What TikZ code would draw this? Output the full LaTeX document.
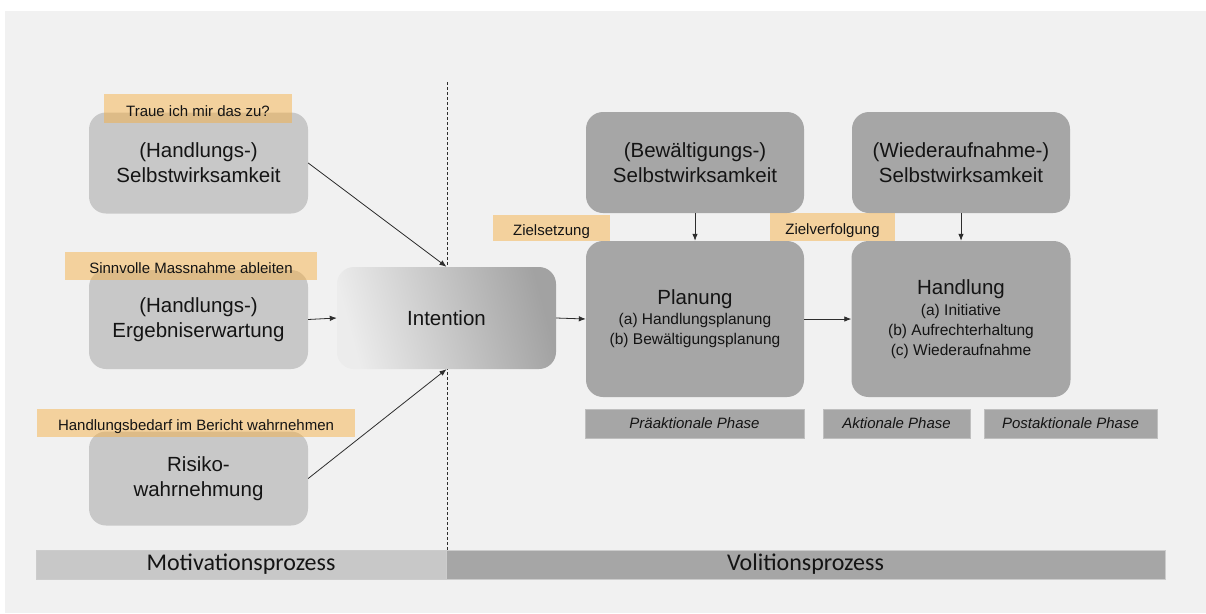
\documentclass[tikz,border=0pt]{standalone}
\usepackage{fontspec}
\setmainfont{Liberation Sans}
\newfontfamily\calib{Carlito}
\usetikzlibrary{arrows.meta}
\definecolor{bgc}{RGB}{241,241,241}
\definecolor{lightbox}{RGB}{200,200,200}
\definecolor{darkbox}{RGB}{166,166,166}
\definecolor{orangec}{RGB}{247,172,56}
\definecolor{txt}{RGB}{20,20,20}
\definecolor{linec}{RGB}{45,45,45}
\definecolor{gradL}{RGB}{236,236,236}
\definecolor{gradR}{RGB}{162,162,162}
\tikzset{
  bigbox/.style={rounded corners=17pt, minimum width=219pt, minimum height=101pt, inner sep=0pt, align=center, text=txt, font=\fontsize{20.5}{25}\selectfont},
  lbox/.style={bigbox, fill=lightbox},
  dbox/.style={bigbox, fill=darkbox},
  tag/.style={fill=orangec, fill opacity=0.45, text opacity=1, text=txt, inner sep=0pt, text height=15pt, text depth=0pt, font=\fontsize{15}{18}\selectfont},
  phasebox/.style={fill=darkbox, draw=black!25, line width=0.4pt, minimum height=29pt, inner sep=0pt, text=txt, font=\fontsize{15}{18}\selectfont\itshape},
  barbox/.style={minimum height=29pt, inner sep=0pt, text=txt, draw=black!20, line width=0.4pt, font=\calib\fontsize{24}{26}\selectfont},
  conn/.style={draw=linec, line width=0.8pt, -{Latex[length=7pt,width=5.5pt]}}
}
\begin{document}
\begin{tikzpicture}[x=1pt,y=-1pt]
\useasboundingbox (0,0) rectangle (1206,613);
\fill[bgc] (5,11) rectangle (1206,613);

% dashed divider
\coordinate (dtop) at (447,82);
\coordinate (dbot) at (447,551);
\draw[linec, line width=0.5pt, dash pattern=on 3pt off 2pt] (dtop) -- (dbot);

% motivation boxes
\node[lbox] (b1) at (198.5,163) {(Handlungs-)\\Selbstwirksamkeit};
\node[lbox, minimum height=99pt] (b2) at (198.5,319.5) {(Handlungs-)\\Ergebniserwartung};
\node[lbox, minimum height=94pt] (b3) at (198.5,478.5) {Risiko-\\wahrnehmung};

% intention
\node[bigbox, left color=gradL, right color=gradR, shading angle=105, minimum height=102pt] (intent) at (446.5,318) {Intention};

% volition boxes
\node[dbox, minimum width=218pt] (bew) at (695,162.5) {(Bewältigungs-)\\Selbstwirksamkeit};
\node[dbox, minimum width=218pt] (wied) at (961,162.5) {(Wiederaufnahme-)\\Selbstwirksamkeit};
\node[dbox, minimum width=218pt, minimum height=156pt, font=\fontsize{15.5}{20}\selectfont] (plan) at (695,319)
  {{\fontsize{20.5}{24}\selectfont Planung}\\(a) Handlungsplanung\\(b) Bewältigungsplanung};
\node[dbox, minimum height=156pt, font=\fontsize{15.5}{20}\selectfont] (handl) at (961,319)
  {{\fontsize{20.5}{24}\selectfont Handlung}\\[1pt](a) Initiative\\(b) Aufrechterhaltung\\(c) Wiederaufnahme};

% orange tags
\node[tag, minimum width=188pt, minimum height=29pt] (o1) at (198,108.5) {Traue ich mir das zu?};
\node[tag, minimum width=252pt, minimum height=28pt] (o2) at (191,266) {Sinnvolle Massnahme ableiten};
\node[tag, minimum width=318pt, minimum height=28pt] (o3) at (196,423) {Handlungsbedarf im Bericht wahrnehmen};
\node[tag, minimum width=117pt, minimum height=26pt] (o4) at (551.5,228) {Zielsetzung};
\node[tag, minimum width=125pt, minimum height=28pt] (o5) at (832.5,227) {Zielverfolgung};

% phases
\node[phasebox, minimum width=219pt] (p1) at (694.5,423.5) {Präaktionale Phase};
\node[phasebox, minimum width=147pt] (p2) at (896.5,423.5) {Aktionale Phase};
\node[phasebox, minimum width=173pt] (p3) at (1070.5,423.5) {Postaktionale Phase};

% bottom bar
\node[barbox, fill=lightbox, minimum width=410pt] (mot) at (241,564.5) {Motivationsprozess};
\node[barbox, fill=darkbox, minimum width=719pt] (vol) at (805.5,564.5) {Volitionsprozess};

% connectors
\draw[conn] (b1.east) -- (intent.north);
\draw[conn] (b2.east) -- (intent.west);
\draw[conn] (b3.east) -- (intent.south);
\draw[conn] (intent.east) -- (plan.west);
\draw[conn] (plan.east) -- (handl.west);
\draw[conn] (bew.south) -- (plan.north);
\draw[conn] (wied.south) -- (handl.north);
\end{tikzpicture}
\end{document}
